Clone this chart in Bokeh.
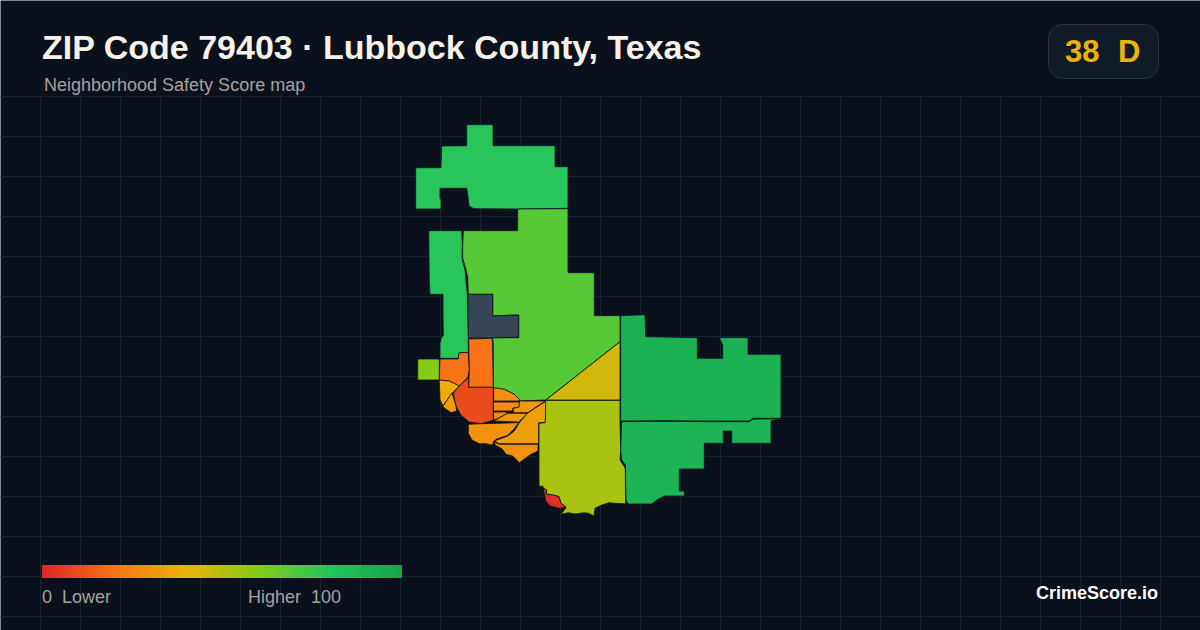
from bokeh.plotting import figure
from bokeh.embed import file_html
from bokeh.resources import INLINE
from bokeh.models import Range1d
from bokeh.core.properties import value

TITLE = "ZIP Code 79403 · Lubbock County, Texas"
SUBTITLE = "Neighborhood Safety Score map"
SCORE = "38"
GRADE = "D"
BRAND = "CrimeScore.io"
LOW_LABEL = "0\u00a0 Lower"
HIGH_LABEL = "Higher\u00a0 100"

RAMP_STOPS = [0, 20, 40, 60, 80, 100]
RAMP_COLORS = ["#dc2626", "#f97316", "#eab308", "#84cc16", "#22c55e", "#16a34a"]
NO_DATA = "#374559"
BG = "#0a111c"

# (score, outline traced on the picture); None = no data
north = (79, [(466.7,124.7),(493,124.7),(493,145.7),(555,145.7),(555,166.7),(568,166.7),(568,208.3),(543,208.7),(520.7,209),(474,208.7),(469,206),(467.7,194),(466.7,188.3),(440,188.3),(440,198.7),(441,198.7),(441,209),(415.7,209),(415.7,167.7),(441,167.7),(441.7,146),(466.7,145.7)])
central = (69, [(517.7,209),(568,208.7),(568,272.7),(594.3,272.7),(594.3,315.7),(620,315.7),(620,341.7),(545.7,400),(519.3,401),(519.3,399.3),(514.3,394.3),(504.3,389.3),(493.3,387.7),(493.3,343.3),(492.7,337.7),(518.7,337.7),(518.7,315),(506,315.3),(492.7,316),(492.7,294.3),(468.3,294.3),(467.7,276.7),(465.5,268),(462.7,258.3),(462.7,246.7),(463.3,230.7),(517.7,230.7)])
slate = (None, [(468.3,294.3),(492.7,294.3),(492.7,316),(518.7,315),(518.7,337.3),(468.3,338.3),(467.7,316.7)])
strip = (79, [(428.7,230.7),(461.7,230.7),(462.3,243.3),(462,258.3),(465,270),(467.3,294.3),(467.7,316.7),(468.3,338.3),(468.3,352.7),(459,352.7),(458.3,358.3),(440,358.3),(440,343.3),(441.7,336.7),(443.3,336),(443,310),(443,294.3),(430,294.3),(429.3,281.7)])
square = (60, [(417.7,359),(439.3,359),(439.3,380),(417.7,380)])
west = (20, [(440,359),(458.3,359),(459,352.7),(468.3,352.7),(469.3,370),(467.7,377.7),(459.3,386),(449.3,381),(439.3,380)])
tall = (20, [(468.7,339),(492.3,338.3),(493.3,387.3),(468.7,387.3),(469.3,370)])
core = (10, [(468.7,387.3),(493.3,387.3),(493.3,420.3),(481,423.7),(469.3,422),(461,415.3),(456,406),(453.3,393.3),(459.3,386),(468.3,377.7)])
sw_a = (38, [(439.3,380),(449.3,381),(459.3,386),(452.7,392.7),(442.7,406),(440,399.3)])
sw_b = (33, [(452,392.7),(456,406),(456.7,411),(451,412.7),(442.7,406.7)])
zone_a = (28, [(493.7,387.7),(504.3,389.3),(514.3,394.3),(519.3,399.3),(519.3,401),(493.7,401)])
zone_b = (27, [(493.3,402),(519.3,402),(519.3,407),(512.7,408.3),(512.7,411),(493.3,411)])
zone_c = (26, [(493.3,412),(506.7,412),(506.7,414.3),(493.7,420.3)])
zone_d = (31, [(519.3,401),(545.3,401),(527.7,412.7),(513.3,412.7),(513.3,408.3),(519.3,407)])
zone_e = (32, [(493.7,421),(507.7,413.3),(527.7,413.3),(518.7,422)])
zone_f = (30, [(468.3,424.3),(481,423.7),(518.7,422.7),(513.7,429.3),(507.7,435.3),(496,439.3),(493.3,442),(492.7,445.3),(486,443.7),(479.3,443.7),(472,440),(468.3,433.3)])
zone_g = (34, [(546,401),(545.3,422.7),(538.7,422.7),(538.7,443.7),(499.3,443.7),(494.3,441),(507.7,436),(514.3,431),(519.3,422.7),(527.7,413)])
zone_h = (29, [(494.3,442),(499.3,444.3),(538,444.3),(538,451),(531,454.3),(519.3,462.7),(512.7,456),(506,454.3),(502,448.7),(495.3,445.3)])
south = (53, [(545.7,400.3),(620,400.3),(620,421.7),(620.7,450),(620,460),(625.3,468.3),(625.7,503.3),(629.3,504),(615,503.3),(609,502.7),(601.7,505),(595,508.3),(594,516),(588.3,513.3),(584.3,512.7),(575,514),(568.3,512.7),(561,514.3),(566,507.7),(561,503.3),(559,496.7),(553.3,495),(546,494),(546.7,490),(543.3,488.3),(543,486.5),(539,486),(539,423.3),(545.3,422.7)])
tip = (2, [(543.3,488.3),(546.7,490),(546,494),(553.3,495),(559,496.7),(561,503.3),(566,506.7),(560,508.3),(550,506),(545.7,500.7)])
wedge = (45, [(620,341.7),(620,400),(546,400)])
east = (91, [(620.7,315.7),(645,314.7),(645.7,336.7),(697.3,337.7),(697.3,358.3),(722.7,358.3),(722.7,345),(719.3,337.7),(748,337.7),(748,354.3),(781,354.3),(781,418.3),(753.3,418.3),(749,421),(706,421),(662,420.7),(620.7,421)])
southeast = (90, [(621.7,421.7),(662,421.3),(706,421.7),(749,421.7),(753.3,419),(780,419),(771,421),(771,443.3),(731.7,443.3),(731.7,431),(723.3,431),(723.3,443.3),(704.3,443.3),(704.3,469),(679.3,469),(679.3,491),(684.3,491),(684.3,496),(665,496),(658.3,499),(651.7,504),(628.3,504),(626,500),(625.3,465),(621.7,460),(620.7,450)])
ZONES = [north, central, slate, strip, square, west, tall, core, sw_a, sw_b, zone_a, zone_b, zone_c,
         zone_d, zone_e, zone_f, zone_g, zone_h, south, tip, wedge, east, southeast]


def hex_rgb(h):
    return tuple(int(h[i:i + 2], 16) for i in (1, 3, 5))


def ramp(s):
    for i in range(len(RAMP_STOPS) - 1):
        a, b = RAMP_STOPS[i], RAMP_STOPS[i + 1]
        if s <= b:
            t = (s - a) / (b - a)
            ca, cb = hex_rgb(RAMP_COLORS[i]), hex_rgb(RAMP_COLORS[i + 1])
            return "#%02x%02x%02x" % tuple(round(x + (y - x) * t) for x, y in zip(ca, cb))
    return RAMP_COLORS[-1]


p = figure(width=1200, height=630, x_range=Range1d(0.5, 1200.5), y_range=Range1d(630.5, 0.5),
           output_backend="svg", toolbar_location=None, min_border=0,
           x_axis_location=None, y_axis_location=None,
           background_fill_color=BG, border_fill_color=BG, outline_line_color=None)
p.grid.visible = False

# background grid
gx = list(range(40, 1200, 40))
gy = list(range(96, 630, 40))
GRID = "#16242f"
p.multi_line([[x + .5, x + .5] for x in gx], [[96, 632] for _ in gx], line_color=GRID, line_width=1)
p.multi_line([[0, 1202] for _ in gy], [[y + .5, y + .5] for y in gy], line_color=GRID, line_width=1)

# map
p.patches([[q[0] for q in z[1]] for z in ZONES], [[q[1] for q in z[1]] for z in ZONES],
          fill_color=[NO_DATA if z[0] is None else ramp(z[0]) for z in ZONES],
          line_color="#0c1420", line_width=0.8)

# legend gradient: each step runs on under the next, so no seams show
n = 180
p.quad(left=[42 + 2 * i for i in range(n)], right=[402] * n,
       top=[565] * n, bottom=[578] * n,
       fill_color=[ramp(100 * (i + .5) / n) for i in range(n)], line_color=None)

# score badge
p.rect(x=[1103.5], y=[51.5], width=[110], height=[54], border_radius=14,
       fill_color="#111b27", line_color="#263341", line_width=1)


def label(x, y, s, size, color, bold=False, align="left"):
    p.text(x=[x], y=[y], text=[s], text_font=value("Liberation Sans"), text_font_size=size,
           text_color=color, text_font_style="bold" if bold else "normal",
           text_align=align, text_baseline="middle")


label(42, 47, TITLE, "34px", "#f8f1e7", True)
label(44, 85, SUBTITLE, "18px", "#a8a29e")
label(1065, 51, SCORE, "31px", "#eab308", True)
label(1118, 51, GRADE, "31px", "#eab308", True)
label(42, 597, LOW_LABEL, "18px", "#a8a29e")
label(341, 597, HIGH_LABEL, "18px", "#a8a29e", align="right")
label(1158, 593, BRAND, "18px", "#ffffff", True, align="right")

open("out.html", "w").write(file_html(p, INLINE))
